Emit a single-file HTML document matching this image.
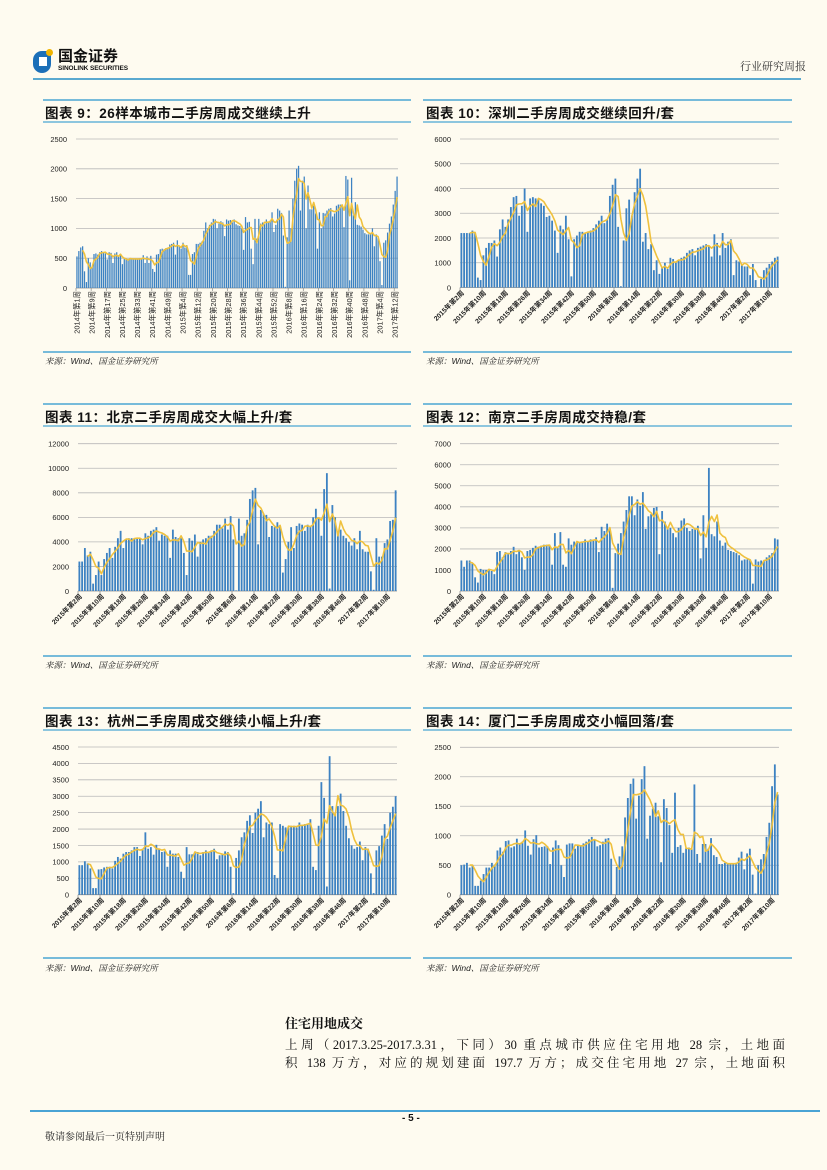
<!DOCTYPE html>
<html><head><meta charset="utf-8">
<style>
html,body{margin:0;padding:0;}
body{width:827px;height:1170px;background:#fefbf0;position:relative;overflow:hidden;font-family:"Liberation Sans","Noto Sans CJK SC",sans-serif;color:#111;}
.abs{position:absolute;}
.ttl{position:absolute;font-family:"Liberation Sans","Noto Sans CJK SC",sans-serif;font-weight:bold;font-size:13.5px;letter-spacing:0.5px;white-space:nowrap;}
.src{position:absolute;font-family:"Liberation Sans","Noto Serif CJK SC",serif;font-style:italic;font-size:8.5px;color:#222;white-space:nowrap;}
.para{position:absolute;left:285px;width:500px;font-family:"Liberation Serif","Noto Serif CJK SC",serif;font-size:12.5px;line-height:18px;text-align:justify;text-align-last:justify;white-space:nowrap;}
</style></head>
<body>
<div class="abs" style="left:31px;top:47px;width:120px;height:28px;">
  <div style="position:absolute;left:2px;top:4px;width:18px;height:22px;border-radius:9px 4px 9px 9px;background:#1b6fb8;"></div>
  <div style="position:absolute;left:8px;top:10px;width:8px;height:9px;background:#fff;"></div>
  <div style="position:absolute;left:15px;top:2px;width:7px;height:7px;border-radius:50%;background:#f0b400;"></div>
  <div style="position:absolute;left:27px;top:0px;font-family:'Noto Sans CJK SC',sans-serif;font-weight:bold;font-size:15px;line-height:17px;color:#111;">国金证券</div>
  <div style="position:absolute;left:27px;top:18px;font-weight:bold;font-size:6.5px;color:#111;letter-spacing:-0.1px;">SINOLINK SECURITIES</div>
</div>
<div class="abs" style="left:740px;top:58px;font-family:'Noto Serif CJK SC',serif;font-size:11px;color:#333;">行业研究周报</div>
<div class="abs" style="left:33px;top:78px;width:768px;height:2px;background:#5aa9cf;"></div>

<div class="ttl" style="left:45px;top:102px;">图表 9：26样本城市二手房周成交继续上升</div>
<div class="ttl" style="left:426px;top:102px;">图表 10：深圳二手房周成交继续回升/套</div>
<div class="ttl" style="left:45px;top:406px;">图表 11：北京二手房周成交大幅上升/套</div>
<div class="ttl" style="left:426px;top:406px;">图表 12：南京二手房周成交持稳/套</div>
<div class="ttl" style="left:45px;top:710px;">图表 13：杭州二手房周成交继续小幅上升/套</div>
<div class="ttl" style="left:426px;top:710px;">图表 14：厦门二手房周成交小幅回落/套</div>

<div class="src" style="left:45px;top:355px;">来源：Wind、国金证券研究所</div>
<div class="src" style="left:426px;top:355px;">来源：Wind、国金证券研究所</div>
<div class="src" style="left:45px;top:659px;">来源：Wind、国金证券研究所</div>
<div class="src" style="left:426px;top:659px;">来源：Wind、国金证券研究所</div>
<div class="src" style="left:45px;top:962px;">来源：Wind、国金证券研究所</div>
<div class="src" style="left:426px;top:962px;">来源：Wind、国金证券研究所</div>

<svg id="charts" class="abs" style="left:0;top:0;" width="827" height="1170"></svg>

<div class="abs" style="left:285px;top:1013px;font-family:'Noto Serif CJK SC',serif;font-weight:bold;font-size:13px;">住宅用地成交</div>
<div class="para" style="top:1036px;">上周（2017.3.25-2017.3.31，下同）30 重点城市供应住宅用地 28 宗，土地面</div>
<div class="para" style="top:1054px;">积 138 万方，对应的规划建面 197.7 万方；成交住宅用地 27 宗，土地面积</div>
<div class="abs" style="left:30px;top:1110px;width:790px;height:2px;background:#4aa3d4;"></div>
<div class="abs" style="left:402px;top:1113px;font-weight:bold;font-size:10px;">- 5 -</div>
<div class="abs" style="left:45px;top:1128px;font-family:'Noto Serif CJK SC',serif;font-size:10px;color:#222;">敬请参阅最后一页特别声明</div>

<script>
const c9Values=[530,620,680,700,280,100,500,430, 350,570,580,560,600,620,600,580, 480,600,590,420,580,600,530,560, 400,500,490,480,500,490,480,480, 490,500,480,550,420,530,420,540, 320,270,560,570,650,660,650,670, 680,730,740,760,560,800,700,660, 760,680,720,220,220,570,600,740, 740,760,780,960,1100,1000,1060,1100, 1160,1150,1000,1080,1120,1100,870,1150, 1130,1140,1100,1150,1070,1050,1040,1000, 640,1190,1100,1110,660,400,1160,830, 1160,1080,1100,1070,1150,1100,1130,1270, 940,1060,1330,1300,1260,880,20,850, 1300,1000,1500,1800,2000,2050,1300,1800, 1870,1000,1720,1320,1320,1380,1250,660, 1270,1000,1260,1250,1300,1330,1340,1200, 1250,1380,1400,1400,1400,1020,1880,1820, 130,1850,1220,1440,1060,1050,1030,980, 920,900,900,920,1000,700,900,850, 450,50,760,800,930,1080,1200,1400, 1630,1870];
const c9Labels=["2014年第1周","2014年第9周","2014年第17周","2014年第25周","2014年第33周","2014年第41周","2014年第49周","2015年第4周","2015年第12周","2015年第20周","2015年第28周","2015年第36周","2015年第44周","2015年第52周","2016年第8周","2016年第16周","2016年第24周","2016年第32周","2016年第40周","2016年第48周","2017年第4周","2017年第12周"];
const c9Ticks=[0,500,1000,1500,2000,2500];

const c10Values=[2200,2200,2200,2200,2300,2200,400,300, 1300,1600,1800,1800,1900,1250,2350,2750, 2450,2750,3250,3650,3700,2900,3300,4000, 2250,3600,3650,3600,3550,3400,3300,2850, 2900,2700,2300,1400,2500,2350,2900,1950, 450,1950,2100,2250,2250,2200,2250,2300, 2400,2550,2700,2900,2600,2750,3700,4150, 4400,2450,50,1900,3200,3550,2900,3850, 4400,4800,1850,2200,1550,1750,700,1100, 550,800,1000,750,1200,1150,1000,1100, 1200,1250,1400,1500,1550,1300,1600,1650, 1700,1750,1650,1250,2150,1800,1300,2200, 1600,1850,1950,500,1100,1050,950,850, 850,500,950,300,0,350,700,800, 950,1050,1200,1250];
const c10Ticks=[0,1000,2000,3000,4000,5000,6000];

const c11Values=[2400,2400,3500,2900,3200,600,1300,2400, 1300,2600,3100,3500,2700,3600,4300,4900, 3500,4200,4300,4300,4300,4300,4300,3800, 4700,4500,4900,5000,5200,4100,4600,4500, 4500,2700,5000,4400,4300,4300,3100,1300, 4300,4100,4600,2800,4000,4200,4300,4500, 4500,4900,5400,5400,5100,5900,5000,6100, 4200,50,5900,4500,4700,5800,7500,8200, 8400,3800,6600,6300,6200,4400,5300,5200, 5600,5300,1500,2600,4000,5200,3500,5300, 5500,5400,4900,5400,5300,6000,6700,5900, 4500,8300,9600,200,7000,6000,4800,5000, 4500,4300,4000,3700,4300,3400,4900,3400, 3200,3200,1600,100,4300,2800,2800,3900, 4200,5700,5800,8200];
const c11Ticks=[0,2000,4000,6000,8000,10000,12000];

const c12Values=[1450,1150,1450,1450,1300,650,400,1050, 1000,1000,1050,950,800,1850,1900,1600, 1850,1750,1900,2100,1750,1950,1600,1000, 1900,1950,2050,2150,2100,2150,2200,2200, 2200,1250,2750,2050,2800,1250,1150,2500, 2200,2350,2350,2300,2300,2450,2350,2450, 2400,2550,1850,3050,2850,3200,2950,150, 1800,2250,2750,3300,3850,4500,4500,3600, 4350,4050,4700,2950,3550,3650,3950,4000, 1750,3800,3300,2950,3000,2750,2550,3000, 3350,3450,3000,2850,2950,2950,3100,1550, 3600,2050,5850,2700,2600,3300,2400,2150, 2300,1950,1900,1850,1800,1700,1450,1500, 1500,1500,350,1500,1400,1450,1450,1600, 1700,1800,2500,2450];
const c12Ticks=[0,1000,2000,3000,4000,5000,6000,7000];

const c13Values=[900,900,1020,950,800,200,200,770, 780,830,850,850,800,1030,1150,1100, 1250,1300,1300,1350,1450,1450,1180,1400, 1900,1400,1450,1220,1520,1380,1300,1320, 850,1350,1250,1250,1150,700,500,1450, 1230,1230,1300,1300,1200,1300,1350,1300, 1350,1400,1080,1200,1250,1320,1300,850, 50,1120,1350,1750,1900,2250,2420,1880, 2500,2620,2850,1750,2200,2150,2200,600, 500,2150,2100,2050,2050,2100,2100,2050, 2200,2100,2150,2150,2300,850,750,2100, 3430,2950,250,4220,2700,2450,2700,3080, 2550,2100,1720,1500,1400,1450,1620,1050, 1450,1400,650,50,1350,1480,1800,2150, 1700,2500,2680,3000];
const c13Ticks=[0,500,1000,1500,2000,2500,3000,3500,4000,4500];

const c14Values=[500,510,540,460,500,150,150,240, 350,460,460,540,510,750,800,730, 910,920,800,820,950,870,900,1090, 830,680,940,1010,800,810,820,820, 520,800,920,840,500,300,850,870, 870,780,840,830,870,900,940,980, 920,820,840,900,950,960,610,0, 470,650,820,1310,1640,1880,1970,1290, 1680,1960,2180,950,1340,1460,1560,1330, 550,1620,1470,1180,710,1730,810,840, 710,790,800,780,1870,690,540,860, 860,780,960,670,640,520,520,540, 520,520,520,540,630,730,430,700, 780,340,20,500,600,690,980,1220, 1840,2210,1700];
const c14Ticks=[0,500,1000,1500,2000,2500];

const weekLabels=["2015年第2周","2015年第10周","2015年第18周","2015年第26周","2015年第34周","2015年第42周","2015年第50周","2016年第6周","2016年第14周","2016年第22周","2016年第30周","2016年第38周","2016年第46周","2017年第2周","2017年第10周"];

const NS="http://www.w3.org/2000/svg";
const svg=document.getElementById('charts');
function mk(tag,attrs,parent){const e=document.createElementNS(NS,tag);for(const k in attrs)e.setAttribute(k,attrs[k]);(parent||svg).appendChild(e);return e;}

function drawChart(id,values,ticks,labels,P,vertical){
  const g=mk('g',{});
  
  
  [[P.top,1.5],[P.tline,1.2],[P.bline,1.5]].forEach(function(r){
    const l=mk('line',{x1:P.pl,x2:P.pr,y1:r[0],y2:r[0],stroke:'#4aa6d2','stroke-width':r[1]},g);
    
    
  });
  const yMax=ticks[ticks.length-1];
  const ys=v=>P.y0-(v/yMax)*(P.y0-P.yT);
  const n=values.length;
  const step=(P.xR-P.xL)/n;
  const xs=i=>P.xL+(i+0.5)*step;
  ticks.forEach(function(t){
    const gl=mk('line',{x1:P.xL,x2:P.xR,y1:ys(t),y2:ys(t),stroke:t===0?'#888':'#b8b8b8','stroke-width':0.8},g);
    
    
    const tx=mk('text',{x:P.xL-9,y:ys(t)+2.8,'text-anchor':'end','font-size':'7.5','font-family':'Liberation Sans, sans-serif',fill:'#222'},g);
    tx.textContent=t;
    
    
  });
  values.forEach(function(v,i){
    const b=mk('rect',{x:xs(i)-step*0.33,y:ys(v),width:step*0.66,height:P.y0-ys(v),fill:'#3d82c2'},g);
    
    
  });
  let pts=[];
  for(let i=3;i<n;i++){const m=(values[i]+values[i-1]+values[i-2]+values[i-3])/4;pts.push(xs(i).toFixed(1)+','+ys(m).toFixed(1));}
  const pl=mk('polyline',{points:pts.join(' '),fill:'none',stroke:'#efc13e','stroke-width':1.6,'stroke-linejoin':'round'},g);
  
  
  labels.forEach(function(lab,k){
    const i=k*8; if(i>n) return;
    const x=P.xL+i*step+step*0.5;
    const tk=mk('line',{x1:x-step*0.5,x2:x-step*0.5,y1:P.y0,y2:P.y0+3,stroke:'#888','stroke-width':0.7},g);
    
    
    let tx;
    if(vertical){
      tx=mk('text',{x:0,y:0,'text-anchor':'end','font-size':'7.4','font-family':'Liberation Sans, Noto Sans CJK SC, sans-serif',fill:'#222',transform:'translate('+(x+2.5)+','+(P.y0+3)+') rotate(-90)'},g);
    } else {
      tx=mk('text',{x:0,y:0,'text-anchor':'end','font-size':'6.8','font-weight':'bold','font-family':'Liberation Sans, Noto Sans CJK SC, sans-serif',fill:'#222',transform:'translate('+(x+3)+','+(P.y0+6)+') rotate(-45)'},g);
    }
    tx.textContent=lab;
    
    
  });
}
drawChart('chart9',c9Values,c9Ticks,c9Labels,{pl:43,pr:411,top:100,tline:122,bline:352,xL:76,xR:398,y0:288,yT:139},true);
drawChart('chart10',c10Values,c10Ticks,weekLabels,{pl:423,pr:792,top:100,tline:122,bline:352,xL:460,xR:779,y0:287.5,yT:139},false);
drawChart('chart11',c11Values,c11Ticks,weekLabels,{pl:43,pr:411,top:404,tline:426,bline:656,xL:78,xR:397,y0:591,yT:443.7},false);
drawChart('chart12',c12Values,c12Ticks,weekLabels,{pl:423,pr:792,top:404,tline:426,bline:656,xL:460,xR:779,y0:591,yT:443.7},false);
drawChart('chart13',c13Values,c13Ticks,weekLabels,{pl:43,pr:411,top:708,tline:730,bline:958,xL:78,xR:397,y0:894.7,yT:747},false);
drawChart('chart14',c14Values,c14Ticks,weekLabels,{pl:423,pr:792,top:708,tline:730,bline:958,xL:460,xR:779,y0:894.7,yT:747.3},false);
</script>
</body></html>
